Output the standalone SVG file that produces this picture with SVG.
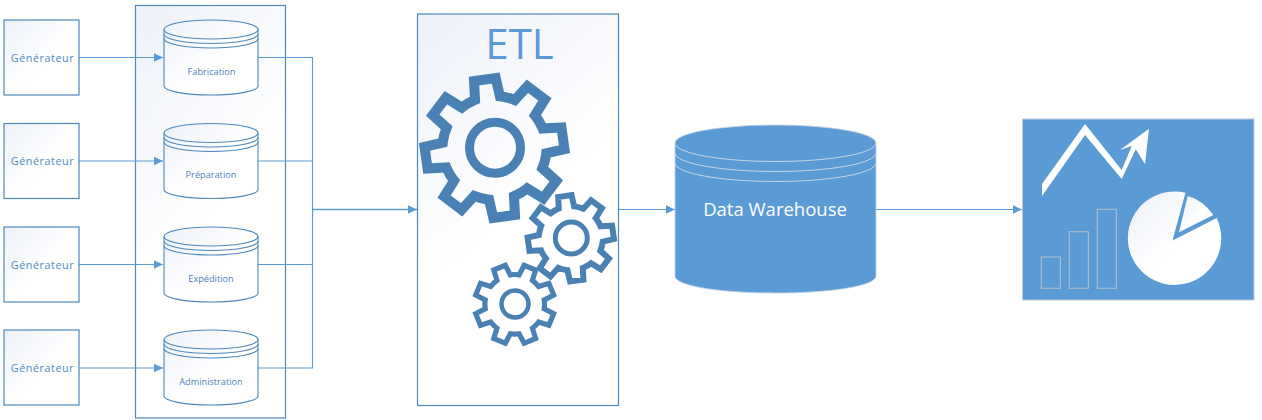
<svg xmlns="http://www.w3.org/2000/svg" width="1262" height="420" viewBox="0 0 1262 420">
<style>
text{font-family:"Open Sans","Noto Sans","Liberation Sans",sans-serif;text-anchor:middle;dominant-baseline:central}
.box{fill:url(#g);stroke:#4f88bd;stroke-width:1.2}
.gen{font-size:10.8px;fill:#4f8ac6;letter-spacing:.55px}
.db{font-size:9.2px;fill:#4f7fc0}
.cyl{fill:url(#g);stroke:#4f88bd;stroke-width:1.1}
.arc{fill:none;stroke:#4f88bd;stroke-width:1.1}
.wire{fill:none;stroke:#5b9bd5;stroke-width:1.2}
.gear{fill:none;stroke:#4a81b4}
.bar{fill:none;stroke:#aebdcc;stroke-width:1.1}
.dwl{fill:none;stroke:#c6d5e4;stroke-width:1}
</style>
<defs>
<linearGradient id="g" x1="0" y1="0" x2="1" y2="1"><stop offset="0" stop-color="#edf1f9"/><stop offset=".55" stop-color="#fff"/></linearGradient>
<linearGradient id="t" gradientUnits="objectBoundingBox" x1="0" y1="0" x2=".25" y2=".6"><stop offset="0" stop-color="#edf1f9"/><stop offset="1" stop-color="#fff"/></linearGradient>
<marker id="ah" markerUnits="userSpaceOnUse" markerWidth="9" markerHeight="9" refX="9" refY="4.5" orient="auto"><path d="M0 0.2L9 4.5L0 8.8z" fill="#5b9bd5"/></marker>
<path id="cogshape" d="M50.46 -12.58L69.14 -10.95L69.14 10.95L50.46 12.58A52 52 0 0 1 44.58 26.79L56.63 41.15L41.15 56.63L26.79 44.58A52 52 0 0 1 12.58 50.46L10.95 69.14L-10.95 69.14L-12.58 50.46A52 52 0 0 1 -26.79 44.58L-41.15 56.63L-56.63 41.15L-44.58 26.79A52 52 0 0 1 -50.46 12.58L-69.14 10.95L-69.14 -10.95L-50.46 -12.58A52 52 0 0 1 -44.58 -26.79L-56.63 -41.15L-41.15 -56.63L-26.79 -44.58A52 52 0 0 1 -12.58 -50.46L-10.95 -69.14L10.95 -69.14L12.58 -50.46A52 52 0 0 1 26.79 -44.58L41.15 -56.63L56.63 -41.15L44.58 -26.79A52 52 0 0 1 50.46 -12.58Z"/>
<path id="cyl" d="M0 9.5A47 9.5 0 0 1 94 9.5V66C94 71 73 75 47 75C21 75 0 71 0 66Z"/>
</defs>

<g id="container"><rect x="135.5" y="5.5" width="150" height="412.5" fill="url(#t)" stroke="#4f88bd" stroke-width="1.2"/></g>

<g id="connectors">
<path class="wire" marker-end="url(#ah)" d="M79 57.5H163"/>
<path class="wire" marker-end="url(#ah)" d="M79 161H163"/>
<path class="wire" marker-end="url(#ah)" d="M79 264.5H163"/>
<path class="wire" marker-end="url(#ah)" d="M79 368H163"/>
<path class="wire" d="M258 57.5H312.5V368H258M258 161H312.5M258 264.5H312.5"/>
<path class="wire" style="stroke-width:1.7" marker-end="url(#ah)" d="M312.5 209.5H417"/>
<path class="wire" marker-end="url(#ah)" d="M618.5 209.5H675"/>
<path class="wire" marker-end="url(#ah)" d="M876 209.5H1022"/>
</g>

<g id="gen1"><rect class="box" x="4" y="20" width="75" height="75"/><text class="gen" x="42.500" y="57">Générateur</text></g>
<g id="gen2"><rect class="box" x="4" y="123.5" width="75" height="75"/><text class="gen" x="42.500" y="160.500">Générateur</text></g>
<g id="gen3"><rect class="box" x="4" y="227" width="75" height="75"/><text class="gen" x="42.500" y="264">Générateur</text></g>
<g id="gen4"><rect class="box" x="4" y="330" width="75" height="75"/><text class="gen" x="42.500" y="367.500">Générateur</text></g>

<g id="db1" transform="translate(164 20)"><use href="#cyl" class="cyl"/><path class="arc" d="M0 9.5A47 9.5 0 0 0 94 9.5M0 14A47 9.5 0 0 0 94 14M0 18.5A47 9.5 0 0 0 94 18.5"/><text class="db" x="47.5" y="51">Fabrication</text></g>
<g id="db2" transform="translate(164 123.5)"><use href="#cyl" class="cyl"/><path class="arc" d="M0 9.5A47 9.5 0 0 0 94 9.5M0 14A47 9.5 0 0 0 94 14M0 18.5A47 9.5 0 0 0 94 18.5"/><text class="db" x="47" y="50.5">Préparation</text></g>
<g id="db3" transform="translate(164 227)"><use href="#cyl" class="cyl"/><path class="arc" d="M0 9.5A47 9.5 0 0 0 94 9.5M0 14A47 9.5 0 0 0 94 14M0 18.5A47 9.5 0 0 0 94 18.5"/><text class="db" x="47" y="51">Expédition</text></g>
<g id="db4" transform="translate(164 330)"><use href="#cyl" class="cyl"/><path class="arc" d="M0 9.5A47 9.5 0 0 0 94 9.5M0 14A47 9.5 0 0 0 94 14M0 18.5A47 9.5 0 0 0 94 18.5"/><text class="db" x="47" y="51">Administration</text></g>

<g id="etl">
<rect x="417.5" y="14" width="201" height="391.5" fill="url(#t)" stroke="#4f88bd" stroke-width="1.2"/>
<text x="519.5" y="42" font-size="42" fill="#5b9bd5">ETL</text>
<use href="#cogshape" class="gear" stroke-width="10" transform="translate(494.500 148) rotate(-8)"/>
<circle class="gear" cx="495" cy="147.700" r="25.500" stroke-width="9"/>
<use href="#cogshape" class="gear" stroke-width="9.700" transform="translate(570.800 238.300) rotate(-8) scale(.617)"/>
<circle class="gear" cx="571.300" cy="238" r="16" stroke-width="5"/>
<use href="#cogshape" class="gear" stroke-width="9" transform="translate(514.700 304.300) rotate(22.500) scale(.573)"/>
<circle class="gear" cx="515" cy="304" r="13.500" stroke-width="4.500"/>
</g>

<g id="dw">
<path d="M675 143A100.500 18 0 0 1 876 143V276C876 286 831 293 775.500 293C720 293 675 286 675 276Z" fill="#5b9bd5" stroke="#c4d2e0" stroke-width=".8"/>
<path class="dwl" d="M675 143A100.500 18.500 0 0 0 876 143M675 153A100.500 18.500 0 0 0 876 153M675 163A100.500 18.500 0 0 0 876 163"/>
<text x="775" y="208.500" font-size="18.500" fill="#fff">Data Warehouse</text>
</g>

<g id="report">
<rect x="1022.500" y="119" width="231.500" height="181" fill="#5b9bd5" stroke="#c0ccd8" stroke-width="1"/>
<polygon fill="#fff" points="1042,196 1085,135 1121.700,179 1135.700,149.300 1145,164 1149,128.700 1120,150 1131.700,146 1121.700,170 1085,124 1042,184"/>
<rect class="bar" x="1041.300" y="257" width="19" height="31.300"/>
<rect class="bar" x="1069.300" y="231.700" width="19" height="56.600"/>
<rect class="bar" x="1097.300" y="209.300" width="19" height="79"/>
<path fill="url(#g)" d="M1172.500 240.500L1185.500 192.800A46.700 46.700 0 1 0 1216.700 218.100Z"/>
<path fill="url(#g)" d="M1179 232.300L1187.700 196A46 46 0 0 1 1213.300 215Z"/>
</g>
</svg>
